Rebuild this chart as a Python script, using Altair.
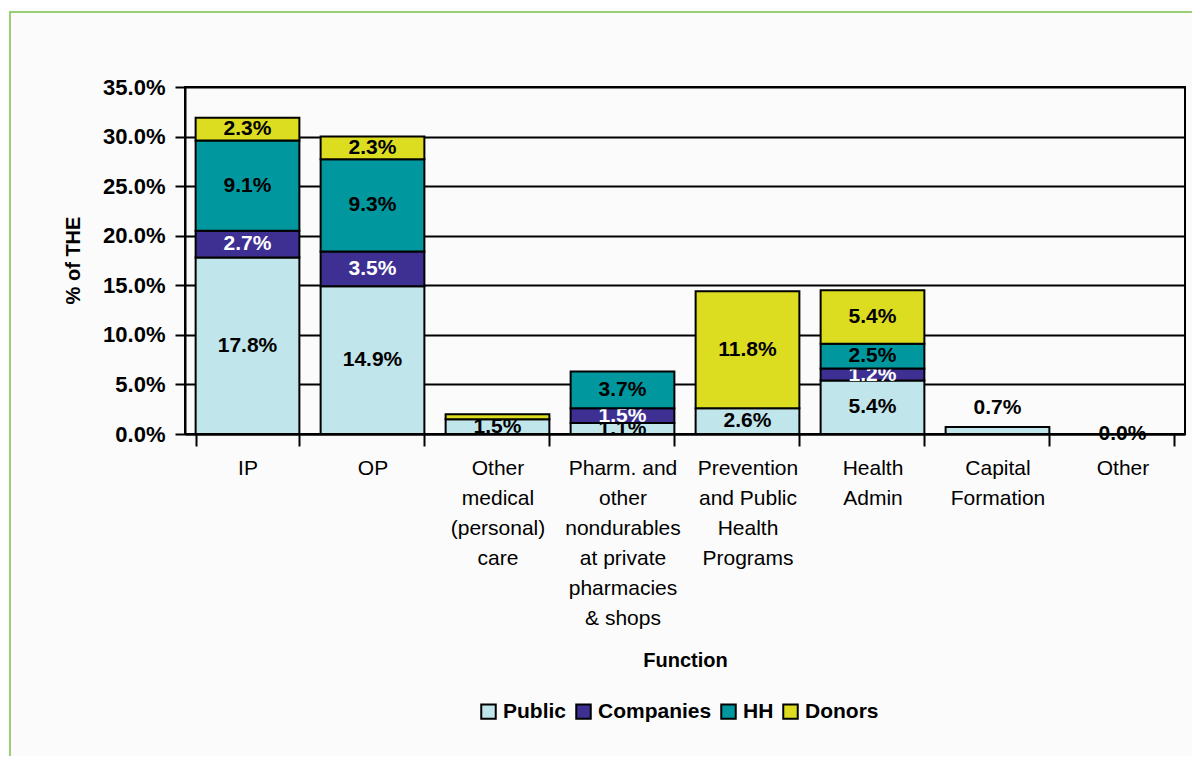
import altair as alt
import pandas as pd

# ---- data ----
categories = [
    "IP",
    "OP",
    "Other|medical|(personal)|care",
    "Pharm. and|other|nondurables|at private|pharmacies|& shops",
    "Prevention|and Public|Health|Programs",
    "Health|Admin",
    "Capital|Formation",
    "Other",
]
series = ["Public", "Companies", "HH", "Donors"]
colors = ["#C0E5EB", "#3E3093", "#00979F", "#DCDC20"]

public = [17.8, 14.9, 1.5, 1.1, 2.6, 5.4, 0.7, 0.0]
companies = [2.7, 3.5, 0.0, 1.5, 0.0, 1.2, 0.0, 0.0]
hh = [9.1, 9.3, 0.0, 3.7, 0.0, 2.5, 0.0, 0.0]
donors = [2.3, 2.3, 0.5, 0.0, 11.8, 5.4, 0.0, 0.0]

public_labels = ["17.8%", "14.9%", "1.5%", "1.1%", "2.6%", "5.4%", "0.7%", "0.0%"]
companies_labels = ["2.7%", "3.5%", "", "1.5%", "", "1.2%", "", ""]
hh_labels = ["9.1%", "9.3%", "", "3.7%", "", "2.5%", "", ""]
donors_labels = ["2.3%", "2.3%", "", "", "11.8%", "5.4%", "", ""]
label_colors = ["black", "white", "black", "black"]
# which public labels sit above the bar instead of inside it
public_label_above = [False, False, False, False, False, False, True, False]

values = [public, companies, hh, donors]
labels = [public_labels, companies_labels, hh_labels, donors_labels]

rows = []
for ci, cat in enumerate(categories):
    base = 0.0
    for si, s in enumerate(series):
        v = values[si][ci]
        if v == 0 and si != 0:
            continue
        start, end = base, base + v
        rows.append({
            "category": cat,
            "series": s,
            "order": si,
            "start": start / 100,
            "end": end / 100,
            "mid": (start + end) / 200,
            "label": labels[si][ci],
            "tcolor": label_colors[si],
            "above": bool(si == 0 and public_label_above[ci]),
            "zero": bool(v == 0),
        })
        base = end
df = pd.DataFrame(rows)

FONT = "Liberation Sans"

x_enc = alt.X("category:N", sort=categories,
              scale=alt.Scale(paddingInner=0.17, paddingOuter=0.085),
              axis=alt.Axis(title="Function", labelAngle=0, labelFontSize=21,
                            labelLineHeight=30, labelPadding=11,
                            labelExpr="isValid(datum.value) ? split(datum.value, '|') : ''",
                            labelColor="black", labelFont=FONT,
                            tickSize=12, tickBand="extent", tickColor="black",
                            tickWidth=2, domainColor="black", domainWidth=2,
                            titleFontSize=20, titleFont=FONT, titleFontWeight="bold",
                            titlePadding=22, titleColor="black"))

y_enc = alt.Y("start:Q", scale=alt.Scale(domain=[0, 0.35], nice=False),
              axis=alt.Axis(title="% of THE", format=".1%",
                            values=[0, 0.05, 0.1, 0.15, 0.2, 0.25, 0.3, 0.35],
                            labelFontSize=22, labelFontWeight="bold", labelFont=FONT,
                            labelColor="black", labelPadding=10,
                            tickSize=10, tickColor="black", tickWidth=2,
                            domainColor="black", domainWidth=2,
                            grid=True, gridColor="black", gridWidth=2,
                            titleFontSize=20, titleFont=FONT, titleFontWeight="bold",
                            titleColor="black", titleX=-102, titleY=173))

color_enc = alt.Color("series:N", sort=series,
                      scale=alt.Scale(domain=series, range=colors),
                      legend=alt.Legend(title=None, orient="none", legendX=293, legendY=614,
                                        direction="horizontal", symbolType="square",
                                        symbolSize=210, symbolStrokeColor="black",
                                        symbolStrokeWidth=2, symbolOpacity=1,
                                        labelFontSize=21, labelFontWeight="bold",
                                        labelFont=FONT, labelColor="black",
                                        labelOffset=4, columnPadding=5))

base = alt.Chart(df)
layers = []
for i, s in enumerate(series):
    bar = base.transform_filter(alt.datum.series == s).mark_bar(
        stroke="black", strokeWidth=2
    ).encode(
        x=x_enc if i == 0 else alt.X("category:N", sort=categories),
        y=y_enc if i == 0 else alt.Y("start:Q"),
        y2="end:Q",
        color=color_enc,
    )
    txt = base.transform_filter(
        (alt.datum.series == s) & (alt.datum.label != "") & (~alt.datum.above) & (~alt.datum.zero)
    ).mark_text(fontSize=21, fontWeight="bold", font=FONT, baseline="middle", clip=True).encode(
        x=alt.X("category:N", sort=categories),
        y=alt.Y("mid:Q"),
        text="label:N",
        color=alt.Color("tcolor:N", scale=None),
    )
    layers += [bar, txt]

text_zero = base.transform_filter(alt.datum.zero & (alt.datum.label != "")).mark_text(
    fontSize=21, fontWeight="bold", font=FONT, baseline="middle"
).encode(
    x=alt.X("category:N", sort=categories),
    y=alt.Y("mid:Q"),
    text="label:N",
    color=alt.Color("tcolor:N", scale=None),
)

zero_bar = base.transform_filter(alt.datum.zero).mark_bar(
    stroke="black", strokeWidth=2
).encode(
    x=alt.X("category:N", sort=categories),
    y=alt.Y("start:Q"),
    y2="end:Q",
    color=alt.Color("series:N"),
)

text_above = base.transform_filter(alt.datum.above).mark_text(
    fontSize=21, fontWeight="bold", font=FONT, baseline="middle", dy=-19
).encode(
    x=alt.X("category:N", sort=categories),
    y=alt.Y("end:Q"),
    text="label:N",
    color=alt.Color("tcolor:N", scale=None),
)

frame = alt.Chart(pd.DataFrame({"k": [0]})).mark_rect(
    fillOpacity=0, stroke="#9ACF78", strokeWidth=2
).encode(
    x=alt.value(-175), x2=alt.value(1040), y=alt.value(-75), y2=alt.value(760)
)

chart = alt.layer(frame, *layers, text_zero, zero_bar, text_above).properties(
    width=1000, height=347,
    autosize=alt.AutoSizeParams(type="none"),
    padding={"left": 177, "top": 79, "right": 7, "bottom": 322},
    background="#FBFBFB",
).configure_view(stroke="black", strokeWidth=2).configure_axis(
    labelFont=FONT, titleFont=FONT
)

chart.save("out.html", embed_options={"renderer": "svg", "actions": False})
